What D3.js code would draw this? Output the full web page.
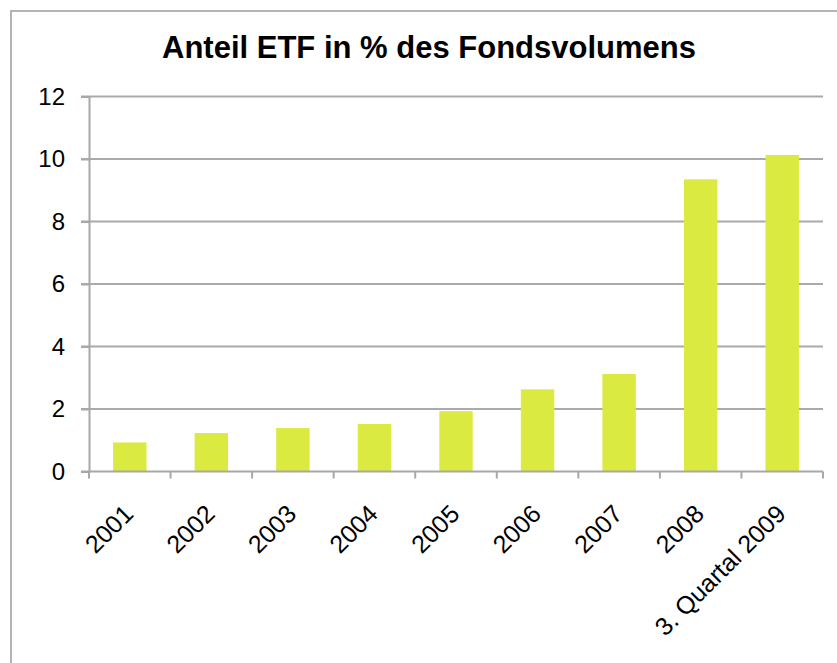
<!DOCTYPE html>
<html>
<head>
<meta charset="utf-8">
<script src="https://cdn.jsdelivr.net/npm/d3@7"></script>
<style>
  body { margin: 0; background: #fff; }
  text { font-family: "Liberation Sans", Arial, sans-serif; fill: #000; }
</style>
</head>
<body>
<div id="chart"></div>
<script>
// data
var categories = ["2001", "2002", "2003", "2004", "2005", "2006", "2007", "2008", "3. Quartal 2009"];
var values = [0.93, 1.23, 1.39, 1.52, 1.93, 2.63, 3.12, 9.35, 10.13];
var yTicks = [0, 2, 4, 6, 8, 10, 12];
var title = "Anteil ETF in % des Fondsvolumens";

var W = 837, H = 663;
var margin = {top: 96.5, left: 89, right: 14, bottom: 191.5};
var width = W - margin.left - margin.right,
    height = H - margin.top - margin.bottom;

var svg = d3.select("#chart")
  .append("svg")
  .attr("width", W)
  .attr("height", H);

// outer frame (runs off the page right and bottom)
svg.append("rect")
  .attr("x", 11).attr("y", 11)
  .attr("width", 1000).attr("height", 1000)
  .attr("fill", "none")
  .attr("stroke", "#b4b4b4")
  .attr("stroke-width", 2);

svg.append("text")
  .attr("x", 429)
  .attr("y", 58)
  .attr("text-anchor", "middle")
  .style("font-size", "31px")
  .style("font-weight", "bold")
  .text(title);

var g = svg.append("g")
  .attr("transform", "translate(" + margin.left + "," + margin.top + ")");

var x = d3.scaleBand()
  .domain(categories)
  .range([0, width])
  .paddingInner(0.59)
  .paddingOuter(0.295);

var xb = d3.scaleBand().domain(categories).range([0, width]);

var y = d3.scaleLinear()
  .domain([0, 12])
  .range([height, 0]);

// gridlines
g.selectAll(".grid")
  .data(yTicks.filter(function(d) { return d > 0; }))
  .enter()
  .append("line")
  .attr("x1", -8)
  .attr("x2", width)
  .attr("y1", function(d) { return y(d); })
  .attr("y2", function(d) { return y(d); })
  .attr("stroke", "#aaaaaa")
  .attr("stroke-width", 2);

// y axis
var yAxis = g.append("g")
  .call(d3.axisLeft(y).tickValues(yTicks).tickSize(8).tickPadding(16));
yAxis.select(".domain").attr("stroke", "#a8a8a8").attr("stroke-width", 2);
yAxis.selectAll(".tick line").attr("stroke", "#a8a8a8").attr("stroke-width", 2);
yAxis.selectAll(".tick text")
  .style("font-size", "24px")
  .style("font-family", "Liberation Sans, Arial, sans-serif")
  .attr("fill", "#000");

// bars
g.selectAll(".bar")
  .data(values)
  .enter()
  .append("rect")
  .attr("class", "bar")
  .attr("x", function(d, i) { return x(categories[i]); })
  .attr("y", function(d) { return y(d); })
  .attr("width", x.bandwidth())
  .attr("height", function(d) { return height - y(d); })
  .attr("fill", "#dbea41");

// x axis line and ticks at band edges
var edges = categories.map(function(c) { return xb(c); }).concat([width]);
g.append("line")
  .attr("x1", -8).attr("x2", width)
  .attr("y1", height).attr("y2", height)
  .attr("stroke", "#a8a8a8").attr("stroke-width", 2);
g.selectAll(".xtick")
  .data(edges)
  .enter()
  .append("line")
  .attr("x1", function(d) { return d; })
  .attr("x2", function(d) { return d; })
  .attr("y1", height)
  .attr("y2", height + 7)
  .attr("stroke", "#a8a8a8")
  .attr("stroke-width", 2);

// rotated category labels
g.selectAll(".xlabel")
  .data(categories)
  .enter()
  .append("text")
  .attr("text-anchor", "end")
  .style("font-size", "25px")
  .attr("transform", function(d) {
    return "translate(" + (xb(d) + xb.bandwidth() / 2 + 5) + "," + (height + 44) + ") rotate(-45)";
  })
  .text(function(d) { return d; });
</script>
</body>
</html>
